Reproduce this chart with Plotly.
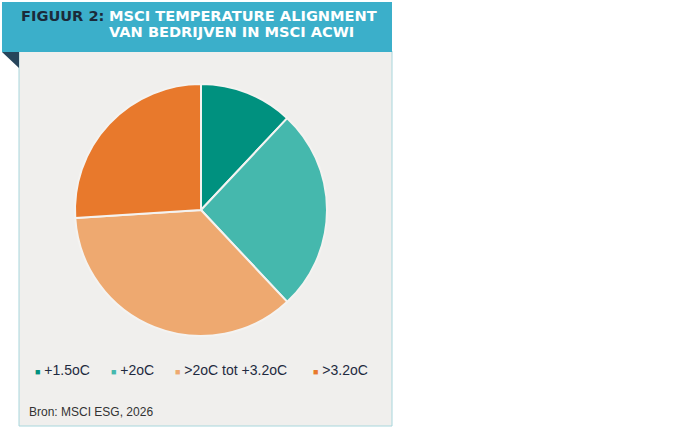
import plotly.graph_objects as go

labels = ["+1.5oC", "+2oC", ">2oC tot +3.2oC", ">3.2oC"]
values = [12, 26, 36, 26]
colors = ["#00917F", "#45B8AD", "#EEA970", "#E8792C"]

W, H = 700, 429

def px(x):
    return x / W

def py(y):
    return 1 - y / H

fig = go.Figure()

fig.add_trace(go.Pie(
    labels=labels,
    values=values,
    sort=False,
    direction="clockwise",
    rotation=0,
    marker=dict(colors=colors, line=dict(color="#F4F3F1", width=2)),
    textinfo="none",
    hoverinfo="label+value",
    showlegend=False,
    domain=dict(x=[px(75), px(327)], y=[py(336), py(84)]),
))

shapes = [
    # panel
    dict(type="rect", xref="paper", yref="paper",
         x0=px(19), x1=px(392), y0=py(426), y1=py(51),
         fillcolor="#F0EFED", line=dict(color="#A8D6DC", width=1), layer="below"),
    # header band
    dict(type="rect", xref="paper", yref="paper",
         x0=px(2), x1=px(392), y0=py(52), y1=py(2),
         fillcolor="#3BAFCA", line=dict(width=0), layer="below"),
    # dark fold triangle
    dict(type="path", xref="paper", yref="paper",
         path=f"M {px(2)},{py(52)} L {px(19)},{py(52)} L {px(19)},{py(68)} Z",
         fillcolor="#26455B", line=dict(width=0), layer="below"),
]

TS = 'style="font-size:14.6px"'
title_lines = ["MSCI TEMPERATURE ALIGNMENT", "VAN BEDRIJVEN IN MSCI ACWI"]

annotations = [
    dict(text=f"<span {TS}>FIGUUR 2:</span>", x=px(19), y=py(16), xref="paper", yref="paper",
         xanchor="left", yanchor="middle", showarrow=False,
         font=dict(family="DejaVu Sans", size=12.5, weight="bold", color="#1B2A3A")),
    dict(text="<br>".join(f"<span {TS}>{t}</span>" for t in title_lines),
         x=px(107), y=py(24), xref="paper", yref="paper", align="left",
         xanchor="left", yanchor="middle", showarrow=False,
         font=dict(family="DejaVu Sans", size=12.5, weight="bold", color="#FFFFFF")),
    dict(text="Bron: MSCI ESG, 2026", x=px(27), y=py(412), xref="paper", yref="paper",
         xanchor="left", yanchor="middle", showarrow=False,
         font=dict(family="Liberation Sans, Arial", size=12, color="#333333")),
]

legend_x = [33, 109, 173, 311]
for lab, col, lx in zip(labels, colors, legend_x):
    annotations.append(dict(
        text=f'<span style="color:{col};font-size:9px">■</span> {lab}',
        x=px(lx), y=py(370), xref="paper", yref="paper",
        xanchor="left", yanchor="middle", showarrow=False,
        font=dict(family="Liberation Sans, Arial", size=14, color="#1E2A40"),
    ))

fig.update_layout(
    width=W, height=H,
    margin=dict(l=0, r=0, t=0, b=0),
    paper_bgcolor="#FFFFFF",
    plot_bgcolor="#FFFFFF",
    shapes=shapes,
    annotations=annotations,
    showlegend=False,
)

fig.write_html("out.html", config={"displayModeBar": False},
               post_script="document.body.style.margin='0';")
